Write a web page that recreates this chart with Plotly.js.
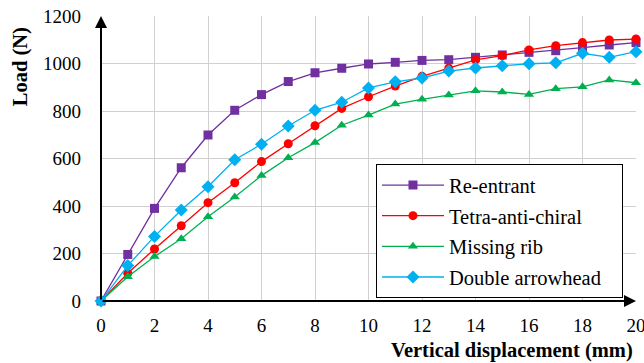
<!DOCTYPE html>
<html>
<head>
<meta charset="utf-8">
<script src="https://cdn.plot.ly/plotly-3.0.1.min.js"></script>
<style>html,body{margin:0;padding:0;background:#fff;overflow:hidden;}#chart{width:644px;height:363px;}</style>
</head>
<body>
<div id="chart"></div>
<script>
const displacement = [0,1,2,3,4,5,6,7,8,9,10,11,12,13,14,15,16,17,18,19,20];
const reEntrant = [0,196,390,561,699,803,869,924,961,980,998,1005,1013,1016,1026,1036,1047,1054,1067,1078,1088];
const tetraAntiChiral = [0,117,219,317,414,498,587,662,738,811,860,905,946,980,1015,1033,1057,1075,1088,1099,1103];
const missingRib = [0,102,187,262,355,438,528,603,667,740,783,829,849,867,885,880,870,894,902,931,919];
const doubleArrowhead = [0,149,272,383,481,595,660,737,803,837,897,923,939,968,981,991,999,1003,1043,1026,1050];
const seriesNames = ["Re-entrant","Tetra-anti-chiral","Missing rib","Double arrowhead"];
const xTicks = [0,2,4,6,8,10,12,14,16,18,20];
const yTicks = [0,200,400,600,800,1000,1200];

const specs = [
  {y: reEntrant, color: "#7030A0", symbol: "square", size: 9},
  {y: tetraAntiChiral, color: "#FF0000", symbol: "circle", size: 9},
  {y: missingRib, color: "#00B050", symbol: "triangle-up", size: 9},
  {y: doubleArrowhead, color: "#00B0F0", symbol: "diamond", size: 10}
];
const traces = specs.map((s, i) => ({
  x: displacement, y: s.y, name: seriesNames[i] + (i === 3 ? "\u00a0\u00a0\u00a0" : ""),
  type: "scatter", mode: "lines+markers",
  legendgroup: "g" + i,
  line: {color: s.color, width: 1.3},
  marker: {color: s.color, symbol: s.symbol, size: s.size},
  cliponaxis: false
}));

const layout = {
  width: 644, height: 363,
  margin: {l: 101, r: 8, t: 16, b: 62},
  paper_bgcolor: "#fff", plot_bgcolor: "#fff",
  font: {family: "Liberation Serif", size: 19, color: "#000"},
  showlegend: true,
  legend: {
    x: 0.514, xanchor: "left", y: 0.48, yanchor: "top",
    bordercolor: "#000", borderwidth: 1, bgcolor: "#fff",
    font: {size: 20.5},
    tracegroupgap: 1, itemwidth: 62
  },
  xaxis: {
    range: [0, 20], tickvals: xTicks, ticktext: xTicks.map(String),
    showgrid: true, gridcolor: "#d0d0d0", gridwidth: 1,
    zeroline: false, showline: false, ticks: "", ticklen: 0,
    ticklabelstandoff: 11, ticklabeloverflow: "allow",
    tickfont: {size: 19}
  },
  yaxis: {
    range: [0, 1200], tickvals: yTicks, ticktext: yTicks.map(String),
    showgrid: true, gridcolor: "#d0d0d0", gridwidth: 1,
    zeroline: false, showline: false, ticks: "", ticklen: 0,
    ticklabelstandoff: 19,
    tickfont: {size: 19}
  },
  annotations: [
    {xref: "x", yref: "y", x: 20, y: 0, ax: -535, ay: 0,
     showarrow: true, arrowhead: 2, arrowsize: 1.2, arrowwidth: 2, arrowcolor: "#000", text: ""},
    {xref: "x", yref: "y", x: 0, y: 1200, ax: 0, ay: 285,
     showarrow: true, arrowhead: 2, arrowsize: 1.2, arrowwidth: 2, arrowcolor: "#000", text: ""},
    {xref: "paper", yref: "paper", x: -0.151, y: 0.821, xanchor: "center", yanchor: "middle",
     text: "<b>Load (N)</b>", textangle: -90, showarrow: false, font: {size: 20.5}},
    {xref: "paper", yref: "paper", x: 0.998, y: -0.175, xanchor: "right", yanchor: "middle",
     text: "<b>Vertical displacement (mm)</b>", showarrow: false, font: {size: 20.5}}
  ]
};
Plotly.newPlot("chart", traces, layout, {displayModeBar: false, staticPlot: true});
</script>
</body>
</html>
